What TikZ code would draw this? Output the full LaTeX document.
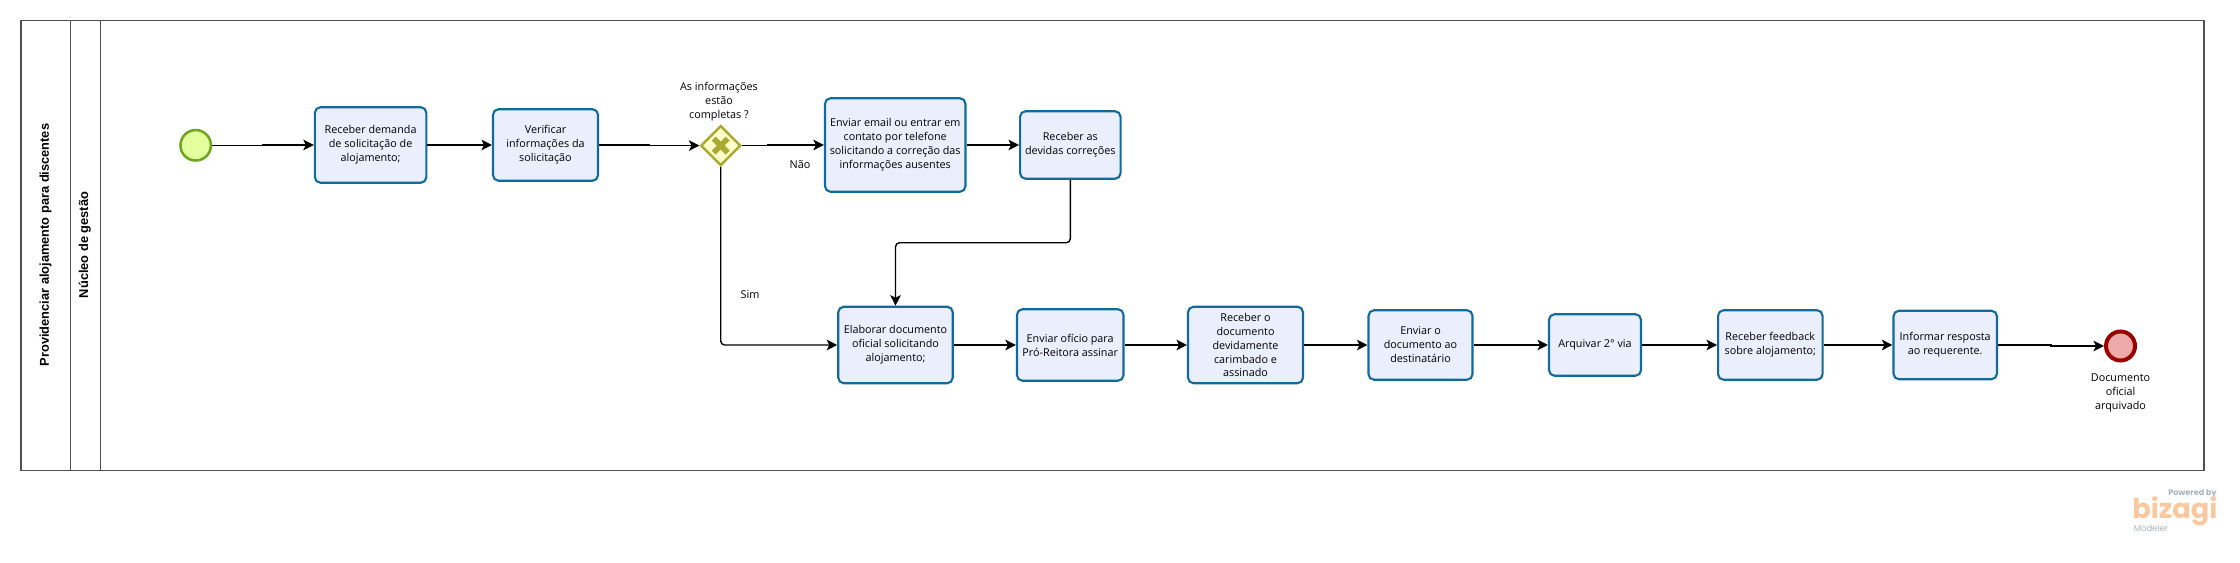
\documentclass[tikz,border=0pt]{standalone}
\usepackage{fontspec}
\setmainfont{Open Sans}
\newfontfamily\titlefont{Liberation Sans}
\newfontfamily\logofont{Poppins}
\usepackage{tikz}
\usetikzlibrary{arrows.meta, positioning, shapes.geometric, calc}
\definecolor{taskline}{RGB}{16,106,156}
\definecolor{taskfill}{RGB}{235,239,253}
\definecolor{startline}{RGB}{108,166,30}
\definecolor{startfill}{RGB}{227,255,158}
\definecolor{endline}{RGB}{155,0,0}
\definecolor{endfill}{RGB}{238,170,170}
\definecolor{gateline}{RGB}{170,170,50}
\definecolor{gatefill}{RGB}{255,255,204}
\definecolor{poolline}{RGB}{80,80,80}
\definecolor{logoorange}{RGB}{249,200,158}
\definecolor{logogray}{RGB}{170,178,184}

\begin{document}
\begin{tikzpicture}[x=0.02cm, y=-0.02cm,
    task/.style={rectangle, draw=taskline, fill=taskfill, rounded corners=0.11cm, line width=0.042cm,
                 inner sep=0pt, align=center, font=\fontsize{6.15}{7.95}\selectfont},
    lbl/.style={inner sep=0pt, align=center, font=\fontsize{6.15}{7.95}\selectfont},
    lane/.style={rotate=90, inner sep=0pt, font=\titlefont\bfseries\fontsize{7.3}{8}\selectfont},
    arr/.style={-{Stealth[length=0.21cm, width=0.21cm, inset=0.05cm]}, line width=0.028cm, black}]
    \useasboundingbox (0,0) rectangle (2240,563);
    \node[draw=poolline, line width=0.03cm, minimum width=43.67cm, minimum height=9.00cm, inner sep=0pt] (pool) at (1112.3,245.4) {};
    \draw[poolline, line width=0.02cm] (70.3,0 |- pool.north) -- (70.3,0 |- pool.south);
    \draw[poolline, line width=0.02cm] (100.5,0 |- pool.north) -- (100.5,0 |- pool.south);
    \node[lane] (process) at (45.5,245) {Providenciar alojamento para discentes};
    \node[lane] (sector) at (84.7,245) {Núcleo de gestão};

    \node[circle, draw=startline, fill=startfill, line width=0.05cm, minimum size=0.61cm, inner sep=0pt] (start) at (195.7,145.3) {};
    \node[task, minimum width=2.23cm, minimum height=1.51cm] (t1) at (370.6,145) {Receber demanda\\de solicitação de\\alojamento;};
    \node[task, minimum width=2.10cm, minimum height=1.43cm] (t2) at (545.5,145) {Verificar\\informações da\\solicitação};
    \node[diamond, draw=gateline, fill=gatefill, line width=0.05cm, minimum size=0.80cm, inner sep=0pt] (gate) at (720.7,145.6) {};
    \draw[gateline, line width=0.11cm] ($(gate)+(-7,-7)$) -- ($(gate)+(7,7)$);
    \draw[gateline, line width=0.11cm] ($(gate)+(-7,7)$) -- ($(gate)+(7,-7)$);
    \node[lbl] (gatelbl) at (719,102) {As informações\\estão\\completas ?};
    \node[task, minimum width=2.81cm, minimum height=1.87cm] (t3) at (895.2,145) {Enviar email ou entrar em\\contato por telefone\\solicitando a correção das\\informações ausentes};
    \node[task, minimum width=2.01cm, minimum height=1.35cm] (t4) at (1070.3,145) {Receber as\\devidas correções};

    \node[task, minimum width=2.29cm, minimum height=1.53cm] (t5) at (895.5,345) {Elaborar documento\\oficial solicitando\\alojamento;};
    \node[task, minimum width=2.13cm, minimum height=1.43cm] (t6) at (1070.2,345) {Enviar ofício para\\Pró-Reitora assinar};
    \node[task, minimum width=2.30cm, minimum height=1.53cm] (t7) at (1245.5,345) {Receber o\\documento\\devidamente\\carimbado e\\assinado};
    \node[task, minimum width=2.08cm, minimum height=1.39cm] (t8) at (1420.5,345) {Enviar o\\documento ao\\destinatário};
    \node[task, minimum width=1.84cm, minimum height=1.23cm] (t9) at (1595,345) {Arquivar 2° via};
    \node[task, minimum width=2.09cm, minimum height=1.39cm] (t10) at (1770.3,345) {Receber feedback\\sobre alojamento;};
    \node[task, minimum width=2.07cm, minimum height=1.37cm] (t11) at (1945.2,345) {Informar resposta\\ao requerente.};
    \node[circle, draw=endline, fill=endfill, line width=0.08cm, minimum size=0.58cm, inner sep=0pt] (finish) at (2120.5,346) {};
    \node[lbl] (finishlbl) at (2120.5,393) {Documento\\oficial\\arquivado};

    \node[lbl] (no) at (800,165) {Não};
    \node[lbl] (yes) at (750,295) {Sim};

    \draw[arr] (start.east) -| ($(start.east)!.5!(t1.west)$) |- (t1.west);
    \draw[arr] (t1) -- (t2);
    \draw[arr] (t2.east) -| ($(t2.east)!.5!(gate.west)$) |- (gate.west);
    \draw[arr] (gate.east) -| ($(gate.east)!.31!(t3.west)$) |- (t3.west);
    \draw[arr] (t3) -- (t4);
    \draw[arr, rounded corners=0.08cm] (t4.south) |- ($(t4.south)!.5!(t5.north)$) -| (t5.north);
    \draw[arr, rounded corners=0.08cm] (gate.south) |- (t5.west);
    \draw[arr] (t5) -- (t6); \draw[arr] (t6) -- (t7); \draw[arr] (t7) -- (t8); \draw[arr] (t8) -- (t9);
    \draw[arr] (t9) -- (t10); \draw[arr] (t10) -- (t11);
    \draw[arr] (t11.east) -| ($(t11.east)!.5!(finish.west)$) |- (finish.west);

    \node[anchor=east, inner sep=0pt, text=logogray, font=\logofont\bfseries\fontsize{4.6}{6}\selectfont] (powered) at (2217,494) {Powered by};
    \node[anchor=west, inner sep=0pt, text=logoorange, font=\logofont\bfseries\fontsize{15.5}{20}\selectfont] (bizagi) at (2132,511) {bizagi};
    \node[anchor=west, inner sep=0pt, text=logogray, font=\logofont\fontsize{4.8}{6}\selectfont] (modeler) at (2133.5,528) {Modeler};
\end{tikzpicture}
\end{document}
